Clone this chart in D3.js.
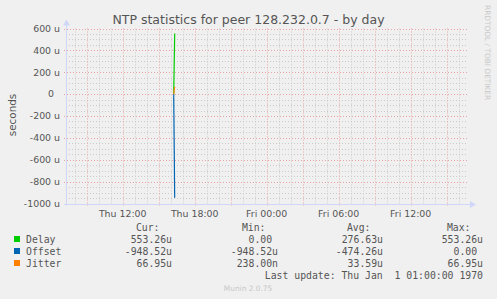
<!DOCTYPE html>
<html>
<head>
<meta charset="utf-8">
<script src="https://d3js.org/d3.v7.min.js"></script>
<style>
  body { margin: 0; background: #f0f0f0; }
  svg { display: block; }
  .pre { white-space: pre; }
</style>
</head>
<body>
<div id="chart"></div>
<script>
// data: hours since Thu 00:00, values in seconds
const times  = [16.25, 16.333];
const delay  = [0, 553.26e-6];
const offset = [0, -948.52e-6];
const jitter = [238e-9, 66.95e-6];

const xTickHours  = [12, 18, 24, 30, 36];
const xTickLabels = ["Thu 12:00", "Thu 18:00", "Fri 00:00", "Fri 06:00", "Fri 12:00"];
const yTicks      = [-1000e-6, -800e-6, -600e-6, -400e-6, -200e-6, 0, 200e-6, 400e-6, 600e-6];
const yTickLabels = ["-1000 u", "-800 u", "-600 u", "-400 u", "-200 u", "0\u00a0\u00a0", "200 u", "400 u", "600 u"];

const seriesNames  = ["Delay", "Offset", "Jitter"];
const seriesColors = ["#00cc00", "#0066b3", "#ff8000"];
const curVals = ["553.26u", "-948.52u", "66.95u"];
const minVals = ["0.00 ", "-948.52u", "238.00n"];
const avgVals = ["276.63u", "-474.26u", "33.59u"];
const maxVals = ["553.26u", "0.00 ", "66.95u"];

const W = 497, H = 299;
const pLeft = 66, pRight = 467, pTop = 28.5, pBottom = 203.5;

const svg = d3.select("#chart").append("svg")
  .attr("width", W).attr("height", H)
  .style("font-family", "'DejaVu Sans', sans-serif");

svg.append("rect").attr("width", W).attr("height", H).attr("fill", "#f0f0f0");

const x = d3.scaleLinear().domain([7.275, 7.275 + (pRight - pLeft) / 12]).range([pLeft, pRight]);
const y = d3.scaleLinear().domain([-1000e-6, 600e-6]).range([pBottom, pTop]);

// grid
const grid = svg.append("g");
const minorY = d3.range(-1000, 601, 50).map(v => v * 1e-6);
grid.selectAll(".gy").data(minorY.filter(v => Math.round(v * 1e6) % 200 !== 0)).enter().append("line")
  .attr("x1", pLeft).attr("x2", pRight)
  .attr("y1", d => Math.round(y(d)) + 0.5).attr("y2", d => Math.round(y(d)) + 0.5)
  .attr("stroke", "#cacaca").attr("stroke-dasharray", "1,2");
const minorX = d3.range(8, 41, 1);
grid.selectAll(".gx").data(minorX.filter(h => h % 3 !== 0)).enter().append("line")
  .attr("y1", pTop).attr("y2", pBottom)
  .attr("x1", d => Math.round(x(d)) + 0.5).attr("x2", d => Math.round(x(d)) + 0.5)
  .attr("stroke", "#cacaca").attr("stroke-dasharray", "1,2");
grid.selectAll(".my").data(yTicks).enter().append("line")
  .attr("x1", pLeft - 2).attr("x2", pRight)
  .attr("y1", d => Math.round(y(d)) + 0.5).attr("y2", d => Math.round(y(d)) + 0.5)
  .attr("stroke", "#e8a4a4").attr("stroke-dasharray", "1,2");
grid.selectAll(".mx").data(minorX.filter(h => h % 3 === 0)).enter().append("line")
  .attr("y1", pTop).attr("y2", pBottom + 2.5)
  .attr("x1", d => Math.round(x(d)) + 0.5).attr("x2", d => Math.round(x(d)) + 0.5)
  .attr("stroke", "#e8a4a4").attr("stroke-dasharray", "1,2");

// axes
const axisCol = "#cfd6f8";
const yb = Math.round(pBottom) + 0.5;
svg.append("line").attr("x1", pLeft - 2).attr("x2", pRight + 3)
  .attr("y1", yb).attr("y2", yb)
  .attr("stroke", axisCol);
svg.append("path").attr("d", `M${pRight + 3},${yb - 3.5} L${pRight + 9},${yb} L${pRight + 3},${yb + 3.5} Z`)
  .attr("fill", axisCol);
svg.append("line").attr("x1", pLeft + 0.5).attr("x2", pLeft + 0.5)
  .attr("y1", pBottom + 2).attr("y2", pTop - 3)
  .attr("stroke", axisCol);
svg.append("path").attr("d", `M${pLeft - 3},${pTop - 3} L${pLeft + 0.5},${pTop - 9} L${pLeft + 4},${pTop - 3} Z`)
  .attr("fill", axisCol);

// tick labels
svg.selectAll(".yl").data(yTicks).enter().append("text")
  .attr("class", "pre")
  .attr("x", 60).attr("y", d => y(d) + 3.3)
  .attr("text-anchor", "end").attr("font-size", 9.4).attr("fill", "#555")
  .text((d, i) => yTickLabels[i]);
svg.selectAll(".xl").data(xTickHours).enter().append("text")
  .attr("x", d => x(d)).attr("y", 216.5)
  .attr("text-anchor", "middle").attr("font-size", 9.4).attr("fill", "#555")
  .text((d, i) => xTickLabels[i]);

svg.append("text").attr("transform", "translate(15.5,115) rotate(-90)")
  .attr("text-anchor", "middle").attr("font-size", 10.4).attr("fill", "#555")
  .text("seconds");

svg.append("text").attr("x", 248.5).attr("y", 24)
  .attr("text-anchor", "middle").attr("font-size", 12.5).attr("fill", "#555")
  .text("NTP statistics for peer 128.232.0.7 - by day");

svg.append("text").attr("transform", "translate(485,5) rotate(90)")
  .attr("font-size", 7.4).attr("fill", "#c8c8c8")
  .text("RRDTOOL / TOBI OETIKER");

// series
const line = d3.line().x((d, i) => x(times[i])).y(d => y(d));
[delay, offset, jitter].forEach((s, k) => {
  svg.append("path").datum(s).attr("d", line)
    .attr("fill", "none").attr("stroke", seriesColors[k]).attr("stroke-width", 1.2);
});

// legend
const lg = svg.append("g").style("font-family", "'DejaVu Sans Mono', monospace")
  .attr("font-size", 9.8).attr("fill", "#555");
const colEnd = [172, 278, 383, 483];
const heads = ["Cur:", "Min:", "Avg:", "Max:"];
heads.forEach((h, j) => {
  lg.append("text").attr("x", colEnd[j] - 12.5).attr("y", 231).attr("text-anchor", "end").text(h);
});
seriesNames.forEach((n, i) => {
  const yy = 243 + i * 12;
  lg.append("rect").attr("x", 14).attr("y", yy - 7).attr("width", 6).attr("height", 6)
    .attr("fill", seriesColors[i]);
  lg.append("text").attr("x", 26).attr("y", yy).text(n);
  [curVals, minVals, avgVals, maxVals].forEach((arr, j) => {
    lg.append("text").attr("class", "pre").attr("x", colEnd[j]).attr("y", yy)
      .attr("text-anchor", "end").text(arr[i]);
  });
});
lg.append("text").attr("class", "pre").attr("x", 483).attr("y", 279).attr("text-anchor", "end")
  .text("Last update: Thu Jan  1 01:00:00 1970");

svg.append("text").attr("x", 248).attr("y", 291).attr("text-anchor", "middle")
  .attr("font-size", 7.4).attr("fill", "#c8c8c8").text("Munin 2.0.75");
</script>
</body>
</html>
